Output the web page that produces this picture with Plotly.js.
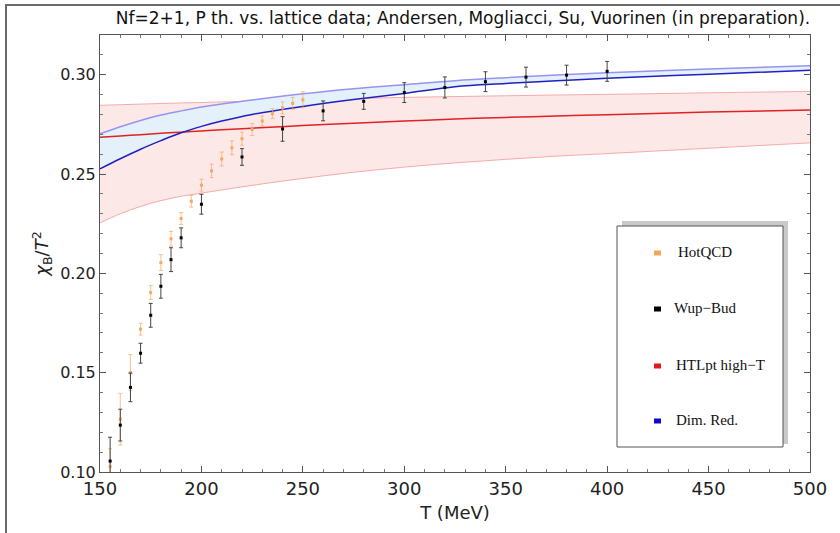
<!DOCTYPE html>
<html>
<head>
<meta charset="utf-8">
<script src="https://cdn.plot.ly/plotly-3.0.1.min.js"></script>
<style>
  html, body { margin:0; padding:0; background:#fff; }
  #wrap { position:relative; width:840px; height:533px; overflow:hidden; }
  #chart { position:absolute; left:0; top:0; width:840px; height:533px; }
  #frame { position:absolute; left:5px; top:4px; width:900px; height:600px;
           border-left:2px solid #6b6b6b; border-top:2px solid #6b6b6b; pointer-events:none; }
</style>
</head>
<body>
<div id="wrap"><div id="chart"></div><div id="frame"></div></div>
<script>
// ---- data ----
const hotT   = [155,160,165,170,175,180,185,190,195,200,205,210,215,220,225,230,235,240,245,250];
const hotVal = [0.1027,0.1266,0.1501,0.1719,0.1903,0.2054,0.2174,0.2276,0.2363,0.2444,0.2516,0.2576,0.2632,0.2678,0.2724,0.2767,0.2804,0.2833,0.2856,0.2874];
const hotErr = [0.009,0.013,0.009,0.003,0.0035,0.004,0.0037,0.003,0.003,0.003,0.0034,0.0035,0.0035,0.0033,0.003,0.0025,0.0025,0.003,0.003,0.004];

const wbT   = [155,160,165,170,175,180,185,190,200,220,240,260,280,300,320,340,360,380,400];
const wbVal = [0.1055,0.1236,0.1426,0.1598,0.1789,0.1935,0.2069,0.2179,0.2348,0.2586,0.2727,0.2818,0.2866,0.2910,0.2936,0.2965,0.2988,0.2998,0.3017];
const wbErr = [0.012,0.008,0.0072,0.005,0.006,0.006,0.006,0.005,0.005,0.0042,0.0062,0.005,0.004,0.005,0.0053,0.005,0.005,0.005,0.005];

const curveT   = [150,160,170,180,190,200,210,225,250,275,300,325,350,375,400,450,500];
const htlMid   = [0.2685,0.2692,0.2698,0.2705,0.2711,0.2717,0.2723,0.2731,0.2744,0.2756,0.2767,0.2777,0.2785,0.2792,0.2799,0.2812,0.2823];
const htlUp    = [0.2846,0.2849,0.2852,0.2855,0.2858,0.2860,0.2863,0.2867,0.2874,0.2880,0.2886,0.2890,0.2894,0.2898,0.2901,0.2909,0.2916];
const htlLow   = [0.2254,0.2300,0.2337,0.2366,0.2388,0.2404,0.2420,0.2443,0.2478,0.2509,0.2535,0.2556,0.2574,0.2590,0.2603,0.2630,0.2657];
const drMid    = [0.2526,0.2577,0.2625,0.2668,0.2708,0.2740,0.2767,0.2800,0.2840,0.2875,0.2906,0.2940,0.2956,0.2970,0.2982,0.3003,0.3022];
const drUp     = [0.2702,0.2738,0.2770,0.2797,0.2818,0.2837,0.2853,0.2873,0.2904,0.2930,0.2950,0.2970,0.2985,0.2998,0.3010,0.3029,0.3045];

const legendNames  = ['HotQCD','Wup\u2212Bud','HTLpt high\u2212T','Dim. Red.'];
const legendColors = ['#f5a55a','#000000','#e41a1a','#0a0ad0'];

const titleText = 'Nf=2+1, P th. vs. lattice data; Andersen, Mogliacci, Su, Vuorinen (in preparation).';

// ---- geometry helpers (plot area in pixels) ----
const W = 840, H = 533;
const M = {l:100, r:30, t:35, b:61};
const PW = W - M.l - M.r, PH = H - M.t - M.b;
const px = x => (x - M.l) / PW;
const py = y => (H - M.b - y) / PH;

const traces = [
  {x:curveT, y:htlLow, mode:'lines', line:{color:'#f5aaaa', width:1, shape:'spline'}, hoverinfo:'skip', showlegend:false},
  {x:curveT, y:htlUp,  mode:'lines', line:{color:'#f5aaaa', width:1, shape:'spline'}, fill:'tonexty', fillcolor:'#fde8e8', hoverinfo:'skip', showlegend:false},
  {x:curveT, y:drMid,  mode:'lines', line:{color:'rgba(0,0,0,0)', width:0, shape:'spline'}, hoverinfo:'skip', showlegend:false},
  {x:curveT, y:drUp,   mode:'lines', line:{color:'#9494f2', width:1.5, shape:'spline'}, fill:'tonexty', fillcolor:'#e4f1fb', hoverinfo:'skip', showlegend:false},
  {x:curveT, y:htlMid, mode:'lines', line:{color:'#e02222', width:1.5, shape:'spline'}, name:legendNames[2], showlegend:false},
  {x:curveT, y:drMid,  mode:'lines', line:{color:'#2020c0', width:1.5, shape:'spline'}, name:legendNames[3], showlegend:false},
  {x:hotT, y:hotVal, mode:'markers', name:legendNames[0], showlegend:false,
   marker:{color:'#f4a862', size:3, symbol:'square'},
   error_y:{type:'data', array:hotErr, visible:true, color:'rgba(242,168,95,0.7)', thickness:1, width:2}},
  {x:wbT, y:wbVal, mode:'markers', name:legendNames[1], showlegend:false,
   marker:{color:'#000000', size:3, symbol:'square'},
   error_y:{type:'data', array:wbErr, visible:true, color:'#444444', thickness:1, width:2}}
];

// legend box drawn with shapes + annotations
const shapes = [
  {type:'rect', xref:'paper', yref:'paper', x0:px(622), x1:px(788), y0:py(444), y1:py(221), fillcolor:'#c9c9c9', line:{width:0}, layer:'above'},
  {type:'rect', xref:'paper', yref:'paper', x0:px(617), x1:px(783), y0:py(447), y1:py(226), fillcolor:'#ffffff', line:{color:'#555555', width:1}, layer:'above'}
];
const legendY = [253, 309, 366, 421];
const legendTX = [676, 672, 674, 674];
const annotations = [];
legendNames.forEach((n, i) => {
  shapes.push({type:'rect', xref:'paper', yref:'paper', x0:px(654), x1:px(661), y0:py(legendY[i]+2.5), y1:py(legendY[i]-2.5),
               fillcolor:legendColors[i], line:{width:0}, layer:'above'});
  annotations.push({xref:'paper', yref:'paper', x:px(legendTX[i]), y:py(legendY[i]-1), xanchor:'left', yanchor:'middle',
                    text:n, showarrow:false, font:{family:'Liberation Serif', size:15, color:'#111'}});
});

const layout = {
  width:W, height:H,
  margin:M,
  paper_bgcolor:'#ffffff', plot_bgcolor:'#ffffff',
  font:{family:'DejaVu Sans', color:'#222'},
  showlegend:false,
  title:{text:titleText, xref:'container', yref:'container', x:463/W, y:1-18/H, xanchor:'center', yanchor:'middle',
         font:{family:'DejaVu Sans', size:17, color:'#111'}},
  xaxis:{range:[150,500], dtick:50, tick0:150, showgrid:false, zeroline:false,
         showline:true, linecolor:'#555', linewidth:1, mirror:'ticks',
         ticks:'inside', ticklen:6, tickcolor:'#555',
         minor:{dtick:10, ticks:'inside', ticklen:3, tickcolor:'#777'},
         tickfont:{size:18, color:'#222'},
         title:{text:'T (MeV)', font:{size:18, color:'#222'}, standoff:8}},
  yaxis:{range:[0.10,0.32], dtick:0.05, tick0:0.10, tickformat:'.2f', showgrid:false, zeroline:false,
         showline:true, linecolor:'#555', linewidth:1, mirror:'ticks',
         ticks:'inside', ticklen:6, tickcolor:'#555',
         minor:{dtick:0.01, ticks:'inside', ticklen:3, tickcolor:'#777'},
         tickfont:{size:16, color:'#222'},
         title:{text:'<i>\u03c7</i><sub>B</sub>/<i>T</i><sup>2</sup>', font:{size:18, color:'#222'}, standoff:6}},
  shapes:shapes,
  annotations:annotations
};

Plotly.newPlot('chart', traces, layout, {staticPlot:true, displayModeBar:false});
</script>
</body>
</html>
